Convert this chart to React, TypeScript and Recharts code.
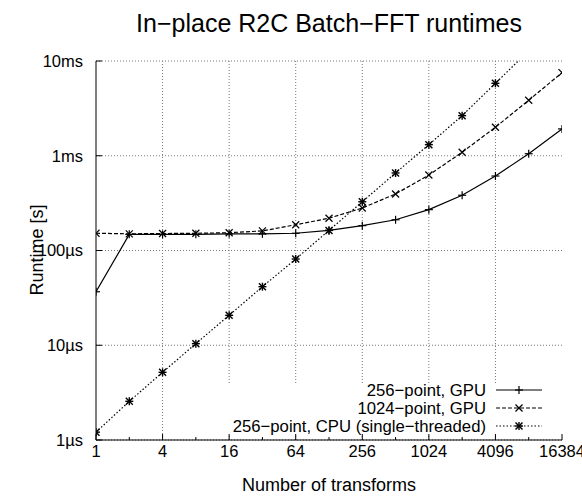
import React from 'react';
import { LineChart, Line, XAxis, YAxis, CartesianGrid, ReferenceLine } from 'recharts';

const FONT = '"Liberation Sans", Arial, Helvetica, sans-serif';

// number of transforms (powers of two)
const transforms = [1, 2, 4, 8, 16, 32, 64, 128, 256, 512, 1024, 2048, 4096, 8192, 16384];
const majorX = [1, 4, 16, 64, 256, 1024, 4096, 16384];

// runtimes in microseconds
const gpu256 = [36.7, 148, 148, 148, 150, 150, 152, 163, 183, 211, 270, 383, 611, 1050, 1920];
const gpu1024 = [152, 150, 151, 152, 154, 161, 187, 219, 281, 395, 626, 1090, 2000, 3850, 7530];
const cpu256 = [1.21, 2.56, 5.18, 10.4, 20.7, 41.5, 81.3, 163, 327, 658, 1310, 2650, 5820, 12800, null];

const yTicks = [1, 10, 100, 1000, 10000];
const yTickLabels = ['1µs', '10µs', '100µs', '1ms', '10ms'];

const data = transforms.map((n, i) => ({
  n,
  gpu256: gpu256[i],
  gpu1024: gpu1024[i],
  cpu256: cpu256[i],
}));

const BottomTick = ({ x, y, payload }: any) => {
  const major = majorX.includes(payload.value);
  return (
    <g>
      <line x1={x} y1={y} x2={x} y2={y - (major ? 6 : 3)} stroke="#000" />
      {major && (
        <text x={x} y={y + 17} textAnchor="middle" fontSize={16.5} fontFamily={FONT} fill="#000">
          {payload.value}
        </text>
      )}
    </g>
  );
};

const TopTick = ({ x, y, payload }: any) => {
  const major = majorX.includes(payload.value);
  return <line x1={x} y1={y} x2={x} y2={y + (major ? 6 : 3)} stroke="#000" />;
};

const LeftTick = ({ x, y, payload }: any) => {
  const label = yTickLabels[yTicks.indexOf(payload.value)];
  return (
    <g>
      <line x1={x} y1={y} x2={x + 6} y2={y} stroke="#000" />
      <text x={x - 13} y={y} dy="0.36em" textAnchor="end" fontSize={16.5} fontFamily={FONT} fill="#000">
        {label}
      </text>
    </g>
  );
};

const RightTick = ({ x, y }: any) => <line x1={x} y1={y} x2={x - 6} y2={y} stroke="#000" />;

const PlusDot = ({ cx, cy }: any) => {
  if (cx == null || cy == null) return null;
  return (
    <g stroke="#000" strokeWidth={1.2}>
      <line x1={cx - 4} y1={cy} x2={cx + 4} y2={cy} />
      <line x1={cx} y1={cy - 4} x2={cx} y2={cy + 4} />
    </g>
  );
};

const CrossDot = ({ cx, cy }: any) => {
  if (cx == null || cy == null) return null;
  return (
    <g stroke="#000" strokeWidth={1.2}>
      <line x1={cx - 3.5} y1={cy - 3.5} x2={cx + 3.5} y2={cy + 3.5} />
      <line x1={cx - 3.5} y1={cy + 3.5} x2={cx + 3.5} y2={cy - 3.5} />
    </g>
  );
};

const StarDot = ({ cx, cy }: any) => {
  if (cx == null || cy == null) return null;
  return (
    <g stroke="#000" strokeWidth={1.4}>
      <line x1={cx - 3.5} y1={cy - 3.5} x2={cx + 3.5} y2={cy + 3.5} />
      <line x1={cx - 3.5} y1={cy + 3.5} x2={cx + 3.5} y2={cy - 3.5} />
      <line x1={cx - 4} y1={cy} x2={cx + 4} y2={cy} />
      <line x1={cx} y1={cy - 4} x2={cx} y2={cy + 4} />
    </g>
  );
};

const legendRows = [
  { name: '256−point, GPU', dash: undefined, Dot: PlusDot },
  { name: '1024−point, GPU', dash: '4 2', Dot: CrossDot },
  { name: '256−point, CPU (single−threaded)', dash: '1.5 2', Dot: StarDot },
];

const ChartLegend = () => (
  <svg
    width={334}
    height={50}
    style={{ position: 'absolute', left: 228, top: 384, overflow: 'visible' }}
  >
    <rect x={0} y={0} width={334} height={50} fill="#fff" />
    {legendRows.map((row, i) => {
      const y = 6 + i * 18;
      return (
        <g key={row.name}>
          <text x={258} y={y} dy="0.36em" textAnchor="end" fontSize={16.7} fontFamily={FONT} fill="#000">
            {row.name}
          </text>
          <line x1={268} y1={y} x2={314} y2={y} stroke="#000" strokeWidth={1.2} strokeDasharray={row.dash} />
          <row.Dot cx={291} cy={y} />
        </g>
      );
    })}
  </svg>
);

export default function App() {
  return (
    <div style={{ position: 'absolute', left: 0, top: 0, width: 582, height: 497, background: '#fff', fontFamily: FONT }}>
      <div style={{ position: 'absolute', left: 29, top: 9, width: 600, textAlign: 'center', fontSize: 25, lineHeight: 'normal' }}>
        In−place R2C Batch−FFT runtimes
      </div>
      <LineChart width={582} height={497} data={data} margin={{ top: 61, right: 20, left: 0, bottom: 0 }}>
        <CartesianGrid vertical={false} stroke="#777" strokeDasharray="1 2" />
        {majorX.slice(1, -1).map((v) => (
          <ReferenceLine key={v} x={v} stroke="#777" strokeDasharray="1 2" />
        ))}
        <XAxis
          dataKey="n"
          type="number"
          scale="log"
          domain={[1, 16384]}
          allowDataOverflow
          ticks={transforms}
          interval={0}
          height={57}
          tickSize={0}
          tickMargin={0}
          tickLine={false}
          tick={<BottomTick />}
          axisLine={{ stroke: '#000' }}
        />
        <XAxis
          xAxisId="top"
          orientation="top"
          dataKey="n"
          type="number"
          scale="log"
          domain={[1, 16384]}
          allowDataOverflow
          ticks={transforms}
          interval={0}
          height={0}
          tickSize={0}
          tickMargin={0}
          tickLine={false}
          tick={<TopTick />}
          axisLine={{ stroke: '#000' }}
        />
        <YAxis
          type="number"
          scale="log"
          domain={[1, 10000]}
          allowDataOverflow
          ticks={yTicks}
          interval={0}
          width={96}
          tickSize={0}
          tickMargin={0}
          tickLine={false}
          tick={<LeftTick />}
          axisLine={{ stroke: '#000' }}
        />
        <YAxis
          yAxisId="right"
          orientation="right"
          type="number"
          scale="log"
          domain={[1, 10000]}
          allowDataOverflow
          ticks={yTicks}
          interval={0}
          width={0}
          tickSize={0}
          tickMargin={0}
          tickLine={false}
          tick={<RightTick />}
          axisLine={{ stroke: '#000', strokeWidth: 1.5 }}
        />
        <Line
          dataKey="cpu256"
          stroke="#000"
          strokeWidth={1.2}
          strokeDasharray="1.5 2"
          dot={<StarDot />}
          activeDot={false}
          connectNulls={false}
          isAnimationActive={false}
        />
        <Line
          dataKey="gpu1024"
          stroke="#000"
          strokeWidth={1.2}
          strokeDasharray="4 2"
          dot={<CrossDot />}
          activeDot={false}
          isAnimationActive={false}
        />
        <Line
          dataKey="gpu256"
          stroke="#000"
          strokeWidth={1.2}
          dot={<PlusDot />}
          activeDot={false}
          isAnimationActive={false}
        />
      </LineChart>
      <ChartLegend />
      <div style={{ position: 'absolute', left: 29, top: 475, width: 600, textAlign: 'center', fontSize: 18, lineHeight: 'normal' }}>
        Number of transforms
      </div>
      <div
        style={{
          position: 'absolute',
          left: 37,
          top: 250,
          transform: 'translate(-50%, -50%) rotate(-90deg)',
          whiteSpace: 'nowrap',
          fontSize: 18,
          lineHeight: 'normal',
        }}
      >
        Runtime [s]
      </div>
    </div>
  );
}
